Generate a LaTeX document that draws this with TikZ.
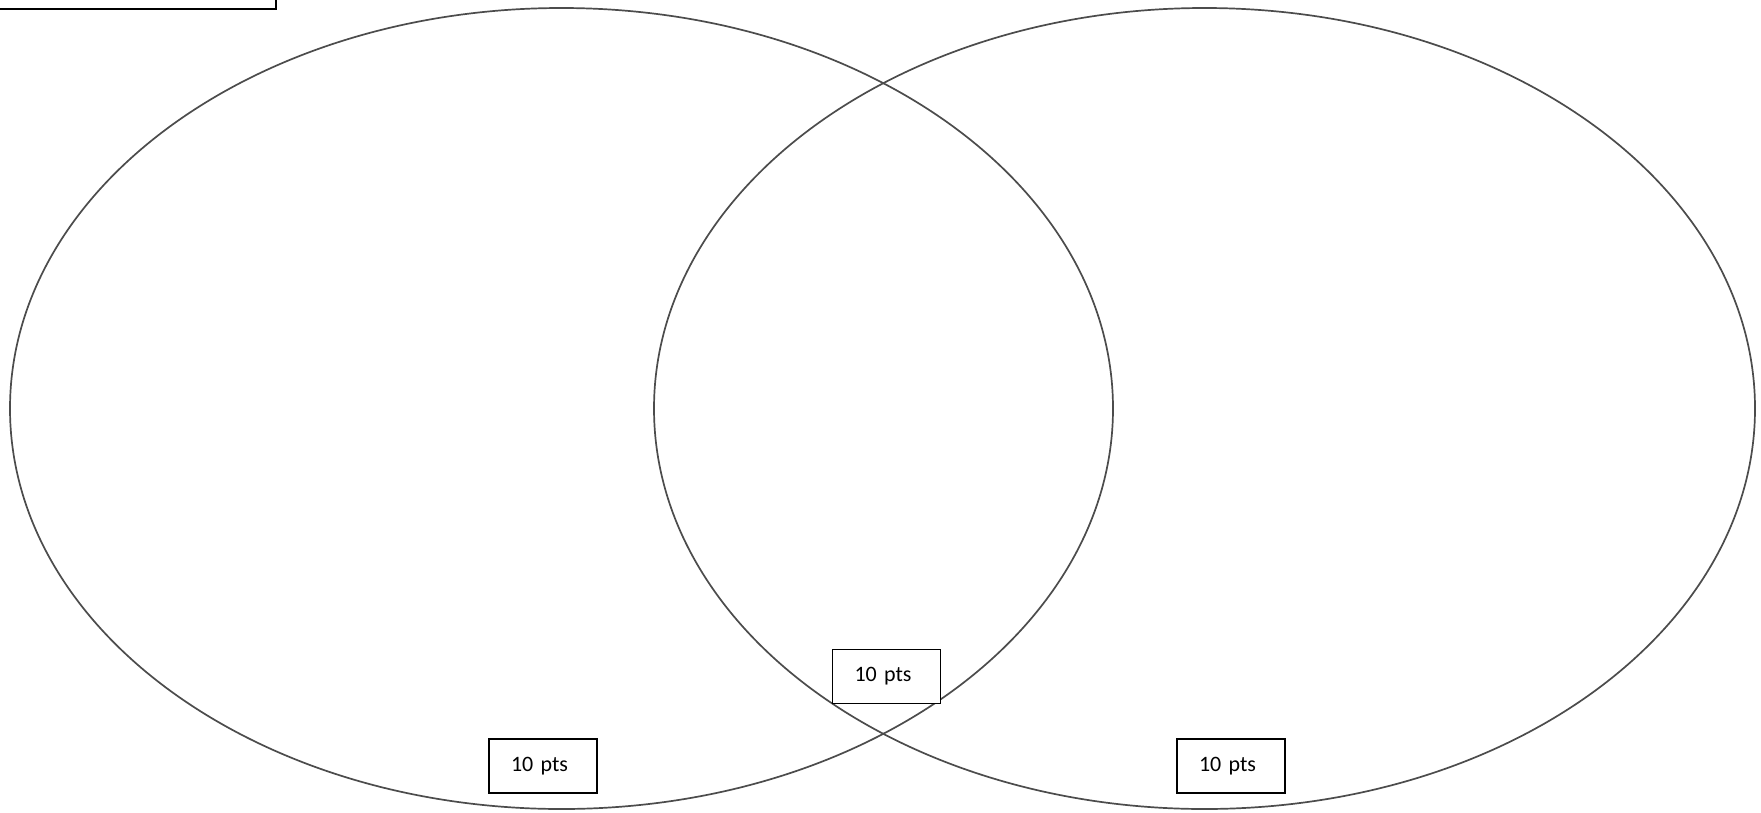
\documentclass[tikz,border=0pt]{standalone}
\usepackage{fontspec}
\setmainfont{Carlito}
\usetikzlibrary{shapes.geometric}
\begin{document}
\begin{tikzpicture}[x=1pt,y=-1pt,
  setshape/.style={ellipse, draw=black!70, line width=1.7pt, inner sep=0pt, outer sep=0pt},
  ptsbox/.style={draw=black, fill=white, line width=1.5pt, minimum height=54pt, text width=64pt,
    inner xsep=22pt, inner ysep=0pt, align=left, font=\fontsize{22}{24}\selectfont},
  titlebox/.style={draw=black, line width=1.6pt, inner sep=0pt}]
\useasboundingbox (0,0) rectangle (1761,812);
\fill[white] (0,0) rectangle (1761,812);
\node[titlebox, minimum width=290pt, minimum height=40pt, anchor=south east] (title) at (277,10) {};
\node[setshape, minimum width=1103pt, minimum height=801pt] (setA) at (561.5,408.5) {};
\node[setshape, minimum width=1101pt, minimum height=801pt] (setB) at (1204.5,408.5) {};
\node[ptsbox, minimum width=108pt] (ptsmid) at (886.5,676.5) {10 pts};
\node[ptsbox, minimum width=108pt] (ptsA) at (543,766) {10 pts};
\node[ptsbox, minimum width=108pt] (ptsB) at (1231,766) {10 pts};
\end{tikzpicture}
\end{document}
